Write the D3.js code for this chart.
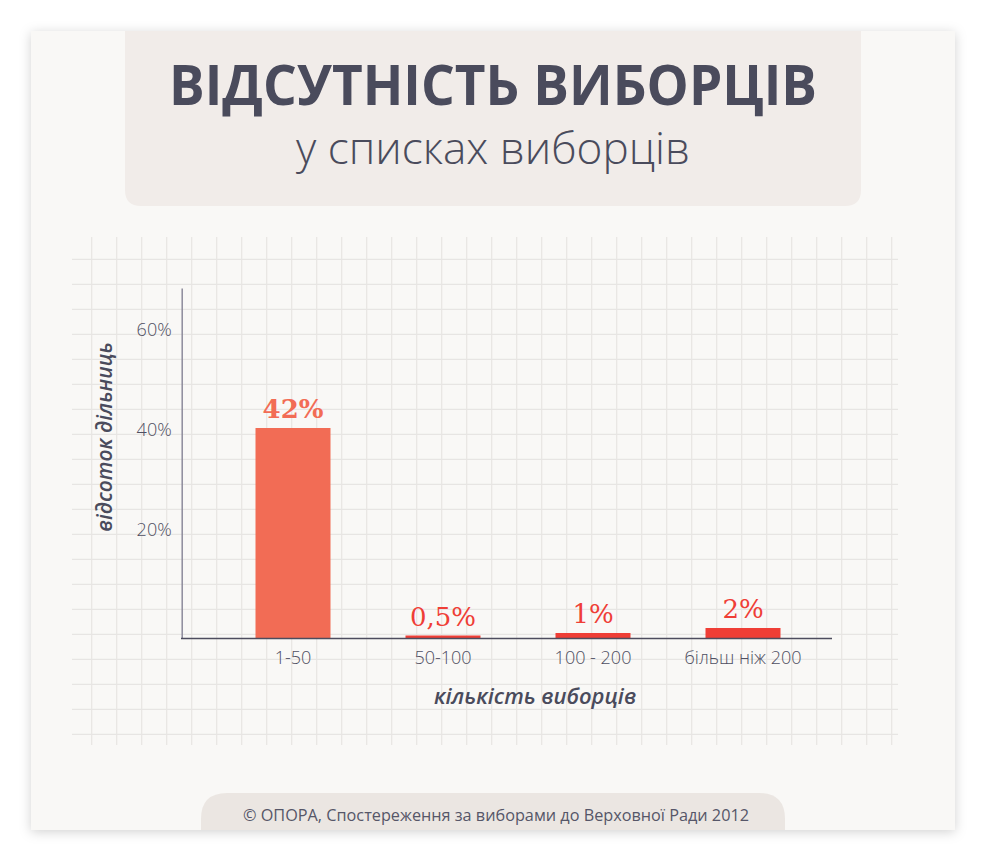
<!DOCTYPE html>
<html>
<head>
<meta charset="utf-8">
<script src="https://cdn.jsdelivr.net/npm/d3@7"></script>
<style>
  html, body { margin: 0; padding: 0; background: #ffffff; }
  svg { display: block; }
</style>
</head>
<body>
<div id="chart"></div>
<script>
// data
const categories = ["1-50", "50-100", "100 - 200", "більш ніж 200"];
const values = [42, 0.5, 1, 2];
const valueLabels = ["42%", "0,5%", "1%", "2%"];
const yTicks = [20, 40, 60];

const W = 987, H = 862;
const ink = "#4a4b5c";

const svg = d3.select("#chart").append("svg")
  .attr("width", W)
  .attr("height", H);

// card shadow
const defs = svg.append("defs");
const f = defs.append("filter").attr("id", "shadow")
  .attr("x", "-10%").attr("y", "-10%").attr("width", "120%").attr("height", "120%");
f.append("feDropShadow").attr("dx", 0).attr("dy", 2).attr("stdDeviation", 6)
  .attr("flood-color", "#000").attr("flood-opacity", 0.18);

svg.append("rect")
  .attr("x", 31).attr("y", 31).attr("width", 924).attr("height", 799)
  .attr("fill", "#f9f8f6")
  .attr("filter", "url(#shadow)");

// header box with rounded bottom corners
const hx = 125, hy = 31, hw = 736, hh = 175, hr = 16;
svg.append("path")
  .attr("d", `M${hx},${hy} H${hx + hw} V${hy + hh - hr} Q${hx + hw},${hy + hh} ${hx + hw - hr},${hy + hh} H${hx + hr} Q${hx},${hy + hh} ${hx},${hy + hh - hr} Z`)
  .attr("fill", "#f1ece9");

svg.append("text")
  .attr("x", 493).attr("y", 105)
  .attr("text-anchor", "middle")
  .attr("font-family", "'Open Sans', sans-serif")
  .attr("font-weight", 700)
  .attr("font-size", 56)
  .attr("textLength", 648)
  .attr("lengthAdjust", "spacingAndGlyphs")
  .attr("fill", ink)
  .text("ВІДСУТНІСТЬ ВИБОРЦІВ");

svg.append("text")
  .attr("x", 493).attr("y", 164)
  .attr("text-anchor", "middle")
  .attr("font-family", "'Open Sans', sans-serif")
  .attr("font-weight", 300)
  .attr("font-size", 44)
  .attr("textLength", 394)
  .attr("lengthAdjust", "spacingAndGlyphs")
  .attr("fill", ink)
  .text("у списках виборців");

// background grid
const grid = svg.append("g").attr("stroke", "#e7e5e3").attr("stroke-width", 1.2);
const vx = d3.range(91.7, 900, 25);
const hyL = d3.range(259.3, 740, 25);
grid.selectAll(".gv").data(vx).enter().append("line")
  .attr("x1", d => d).attr("x2", d => d).attr("y1", 237).attr("y2", 745);
grid.selectAll(".gh").data(hyL).enter().append("line")
  .attr("x1", 72).attr("x2", 898).attr("y1", d => d).attr("y2", d => d);

// scales
const y = d3.scaleLinear().domain([0, 70]).range([638, 288]);
const x = d3.scaleBand().domain(categories).range([218, 818])
  .paddingInner(0.5).paddingOuter(0.25);

// bars
svg.selectAll(".bar").data(values).enter().append("rect")
  .attr("class", "bar")
  .attr("x", (d, i) => x(categories[i]))
  .attr("width", x.bandwidth())
  .attr("y", d => y(d))
  .attr("height", d => y(0) - y(d))
  .attr("fill", (d, i) => i === 0 ? "#f26c55" : "#ef3e36");

// value labels
svg.selectAll(".vl").data(values).enter().append("text")
  .attr("x", (d, i) => x(categories[i]) + x.bandwidth() / 2)
  .attr("y", d => y(d) - 10)
  .attr("text-anchor", "middle")
  .attr("font-family", "'DejaVu Serif', serif")
  .attr("font-weight", (d, i) => i === 0 ? 700 : 400)
  .attr("font-size", 26)
  .attr("fill", (d, i) => i === 0 ? "#f26c55" : "#ef3e36")
  .text((d, i) => valueLabels[i]);

// y axis
const yAxis = svg.append("g")
  .attr("transform", "translate(181.7,0)")
  .call(d3.axisLeft(y).tickValues(yTicks).tickSize(0).tickPadding(10).tickFormat(d => d + "%"));
yAxis.select(".domain").attr("stroke", "#8d8b9b").attr("stroke-width", 1.5);
yAxis.selectAll("text")
  .attr("dy", "-0.15em")
  .attr("font-family", "'Open Sans', sans-serif")
  .attr("font-weight", 300)
  .attr("font-size", 18)
  .attr("fill", "#4f4f62");

// x axis
svg.append("line")
  .attr("x1", 181).attr("x2", 832)
  .attr("y1", y(0) + 0.5).attr("y2", y(0) + 0.5)
  .attr("stroke", "#4d4c5e").attr("stroke-width", 1.3);

const xAxis = svg.append("g")
  .attr("transform", `translate(0,${y(0)})`)
  .call(d3.axisBottom(x).tickSize(0).tickPadding(13));
xAxis.select(".domain").remove();
xAxis.selectAll("text")
  .attr("font-family", "'Open Sans', sans-serif")
  .attr("font-weight", 300)
  .attr("font-size", 18)
  .attr("fill", "#4f4f62");

// axis titles
svg.append("text")
  .attr("x", 535).attr("y", 704)
  .attr("text-anchor", "middle")
  .attr("font-family", "'Open Sans', sans-serif")
  .attr("font-style", "italic")
  .attr("font-weight", 600)
  .attr("font-size", 22)
  .attr("fill", ink)
  .text("кількість виборців");

svg.append("text")
  .attr("transform", "translate(112,437) rotate(-90)")
  .attr("text-anchor", "middle")
  .attr("font-family", "'Open Sans', sans-serif")
  .attr("font-style", "italic")
  .attr("font-weight", 600)
  .attr("font-size", 21)
  .attr("fill", ink)
  .text("відсоток дільниць");

// footer
const fx = 201, fy = 793, fw = 584, fb = 830, fr = 26;
svg.append("path")
  .attr("d", `M${fx},${fb} V${fy + fr} Q${fx},${fy} ${fx + fr},${fy} H${fx + fw - fr} Q${fx + fw},${fy} ${fx + fw},${fy + fr} V${fb} Z`)
  .attr("fill", "#ebe6e2");

svg.append("text")
  .attr("x", 496).attr("y", 821)
  .attr("text-anchor", "middle")
  .attr("font-family", "'Open Sans', sans-serif")
  .attr("font-size", 16)
  .attr("textLength", 506)
  .attr("lengthAdjust", "spacingAndGlyphs")
  .attr("fill", "#565668")
  .text("© ОПОРА, Спостереження за виборами до Верховної Ради 2012");
</script>
</body>
</html>
